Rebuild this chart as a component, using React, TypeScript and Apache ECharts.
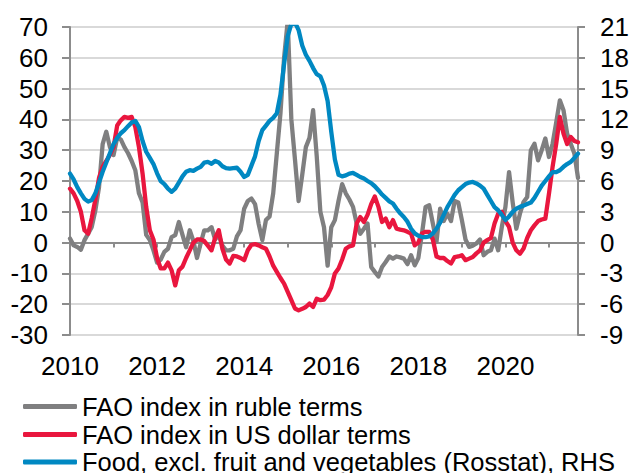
import React, { useEffect, useRef } from "react";
import * as echarts from "echarts";

const startYear = 2010;
const monthCount = 141; // Jan 2010 .. Sep 2021
const categories: string[] = Array.from({ length: monthCount }, (_, i) => {
  const y = startYear + Math.floor(i / 12);
  const m = (i % 12) + 1;
  return `${y}-${m < 10 ? "0" + m : m}`;
});

const leftTicks = { min: -30, max: 70, interval: 10 };
const rightTicks = { min: -9, max: 21, interval: 3 };

const seriesNames = [
  "FAO index in ruble terms",
  "FAO index in US dollar terms",
  "Food, excl. fruit and vegetables (Rosstat), RHS",
];

// FAO index in ruble terms (LHS)
const faoRuble: number[] = [
  1.3, -0.9, -1.4, -2.3, 0.8, 2.9, 5.1, 10.5, 18, 32, 36, 31,
  28.4, 34, 33.5, 31, 29, 26.5, 23.5, 16, 13, 2.5, 0.8, -2.5,
  -6.5, -5.5, -3, -2, 1.8, 2.4, 6.7, 2.5, -1.5, 4, 0.5, -5,
  -0.3, 4, 4, 5, 1, 2.5, -1, -2.5, -2.5, -2, 2, 4,
  11, 13.5, 14.3, 12.5, 6, 0.8, 7.3, 8.5, 16, 29, 42, 60,
  72, 40, 27, 13.5, 22, 31, 34, 43, 28, 10, 5, -7.5,
  5, 7.3, 13.5, 19, 16, 14, 11.6, 6.2, 2.9, 4.5, 6.2, -7.9,
  -9.5, -11, -7.9, -6.3, -4.5, -5.2, -4.5, -4.8, -5.2, -7, -4.1, -7.4,
  -5, 2.9, 11.6, 12.1, 6.2, 0.2, 11, 7, 9.4, 7, 13.5, 13,
  7.3, 1, -1.4, -1, -0.3, 1, -4.1, -3, -2.5, 1.3, -2.5, 5,
  11.6, 22.9, 13, 4.5, 9.4, 13.2, 14.8, 30, 32.1, 26.7, 30, 33.8,
  27.8, 32.1, 39, 46.2, 43, 35.4, 32.1, 28.9, 21,
];

// FAO index in US dollar terms (LHS)
const faoUsd: number[] = [
  17.5, 16, 13.5, 10, 4, 2.9, 8, 14, 21, 24.6, 26.5, 28.5,
  31, 38, 39.7, 40.8, 40.5, 40.8, 37.5, 31, 22.4, 11.6, 4, 1,
  -5, -8.4, -8.4, -6.5, -9, -13.9, -9, -7.8, -5, -2.5, 0, 1,
  1, 0.5, -1, -2.5, 1.5, 4, -2, -5.5, -6.8, -4.3, -4.5, -5,
  -5.7, -2.5, -0.7, -0.5, -0.9, -1.5, -2, -4.5, -7.5, -9.5, -11.5, -13.3,
  -16, -18.7, -21.4, -22, -21.5, -20.9, -19.8, -20.9, -18.2, -18.7, -18.5, -17,
  -14.5, -10, -8.4, -5.5, -2, -1.2, -0.9, 6.2, 8.3, 6.7, 9, 12.5,
  15, 11.6, 6.7, 7.8, 5, 7.3, 4.5, 4.2, 4, 3.5, 2.9, -0.9,
  0, 3, 3.5, 3.5, 1, -4.5, -5, -5, -6, -6.8, -4.7, -4.5,
  -4.1, -5.7, -5.2, -4.7, -3.5, -2.5, 0, 0.8, 1.5, 6.2, 9.4, 10,
  7, 5.1, 0, -2.5, -3.6, -1.9, 1.5, 4, 5.6, 7, 7.5, 7.8,
  15.9, 24.6, 32.1, 40.8, 35.4, 32, 34.3, 33, 32.6,
];

// Food, excl. fruit and vegetables (Rosstat), RHS
const rosstatFood: number[] = [
  6.72, 6.15, 5.4, 4.8, 4.26, 3.99, 4.14, 4.8, 5.85, 6.9, 7.8, 8.7,
  9.6, 10.2, 10.65, 10.95, 11.34, 11.7, 11.85, 11.25, 9.9, 8.85, 8.25, 7.65,
  6.75, 6.0, 5.7, 5.25, 4.95, 5.25, 5.85, 6.45, 6.9, 7.05, 6.99, 7.2,
  7.38, 7.8, 7.86, 7.68, 7.95, 7.8, 7.44, 7.26, 7.2, 7.26, 7.29, 6.9,
  6.39, 6.6, 7.5, 8.4, 9.9, 10.95, 11.4, 11.85, 12.15, 12.6, 14.4, 17.4,
  20.1, 21.3, 21.45, 20.7, 19.2, 18.3, 17.7, 17.0, 16.4, 16.2, 15.3, 13.8,
  10.8, 8.1, 6.6, 6.45, 6.54, 6.72, 6.78, 6.6, 6.39, 6.24, 6.0, 5.79,
  5.49, 5.1, 4.68, 4.35, 4.02, 3.81, 3.3, 2.85, 2.49, 2.04, 1.35, 0.9,
  0.66, 0.54, 0.54, 0.6, 0.9, 1.35, 1.95, 2.7, 3.45, 4.05, 4.65, 5.1,
  5.4, 5.7, 5.85, 5.91, 5.76, 5.55, 5.25, 4.65, 4.05, 3.45, 3.15, 2.7,
  2.19, 2.55, 3.0, 3.3, 3.48, 3.6, 3.75, 3.9, 4.35, 4.95, 5.55, 6.0,
  6.45, 6.87, 6.87, 7.05, 7.38, 7.65, 7.86, 8.25, 8.67,
];

const colors = ["#7F7F80", "#E9163E", "#0088C2"];

const FONT = "'Liberation Sans', Arial, Helvetica, sans-serif";

export default function App() {
  const ref = useRef<HTMLDivElement>(null);

  useEffect(() => {
    if (!ref.current) return;
    const chart = echarts.init(ref.current, undefined, { renderer: "svg" });
    const axisGrey = "#8C8C8C";
    const gridGrey = "#D9D9D9";
    const labelStyle = { color: "#000", fontSize: 26, fontFamily: FONT };

    const legendTops = [392.5, 420.5, 448];
    const legends = seriesNames.map((name, k) => ({
      orient: "horizontal",
      left: 23,
      top: legendTops[k],
      icon: "roundRect",
      itemWidth: 54,
      itemHeight: 5,
      itemGap: 0,
      padding: 0,
      data: [name],
      textStyle: { color: "#000", fontSize: 25.5, lineHeight: 28, fontFamily: FONT },
    }));

    chart.setOption({
      animation: false,
      backgroundColor: "#fff",
      textStyle: { fontFamily: FONT },
      grid: { left: 70, right: 54, top: 27, bottom: 138, containLabel: false },
      legend: legends,
      xAxis: [
        {
          type: "category",
          data: categories,
          boundaryGap: false,
          position: "bottom",
          axisLine: { show: false, onZero: false },
          axisTick: { show: false },
          splitLine: { show: false },
          axisLabel: {
            ...labelStyle,
            margin: 18,
            interval: (index: number) => index % 24 === 0,
            formatter: (v: string) => v.slice(0, 4),
          },
        },
        {
          type: "category",
          data: categories,
          boundaryGap: false,
          position: "bottom",
          axisLine: { show: true, onZero: true, onZeroAxisIndex: 0, lineStyle: { color: axisGrey, width: 2 } },
          axisTick: {
            show: true,
            length: 5,
            interval: (index: number) => index % 12 === 0,
            lineStyle: { color: axisGrey, width: 2 },
          },
          axisLabel: { show: false },
          splitLine: { show: false },
        },
      ],
      yAxis: [
        {
          type: "value",
          min: leftTicks.min,
          max: leftTicks.max,
          interval: leftTicks.interval,
          position: "left",
          axisLine: { show: true, lineStyle: { color: axisGrey, width: 2 } },
          axisTick: { show: true, length: 8, lineStyle: { color: axisGrey, width: 2 } },
          axisLabel: { ...labelStyle, margin: 22 },
          splitLine: { show: true, lineStyle: { color: gridGrey, width: 2 } },
        },
        {
          type: "value",
          min: rightTicks.min,
          max: rightTicks.max,
          interval: rightTicks.interval,
          position: "right",
          axisLine: { show: true, lineStyle: { color: axisGrey, width: 2 } },
          axisTick: { show: true, length: 7, lineStyle: { color: axisGrey, width: 2 } },
          axisLabel: { ...labelStyle, margin: 22 },
          splitLine: { show: false },
        },
      ],
      series: [
        {
          name: seriesNames[0],
          type: "line",
          xAxisIndex: 0,
          yAxisIndex: 0,
          data: faoRuble,
          showSymbol: false,
          clip: true,
          lineStyle: { color: colors[0], width: 4.3, cap: "round", join: "round" },
          itemStyle: { color: colors[0] },
        },
        {
          name: seriesNames[1],
          type: "line",
          xAxisIndex: 0,
          yAxisIndex: 0,
          data: faoUsd,
          showSymbol: false,
          clip: true,
          lineStyle: { color: colors[1], width: 4.3, cap: "round", join: "round" },
          itemStyle: { color: colors[1] },
        },
        {
          name: seriesNames[2],
          type: "line",
          xAxisIndex: 0,
          yAxisIndex: 1,
          data: rosstatFood,
          showSymbol: false,
          clip: true,
          lineStyle: { color: colors[2], width: 4.3, cap: "round", join: "round" },
          itemStyle: { color: colors[2] },
        },
      ],
    });

    return () => chart.dispose();
  }, []);

  return (
    <div
      ref={ref}
      style={{ position: "fixed", left: 0, top: 0, width: 632, height: 473, background: "#fff" }}
    />
  );
}
